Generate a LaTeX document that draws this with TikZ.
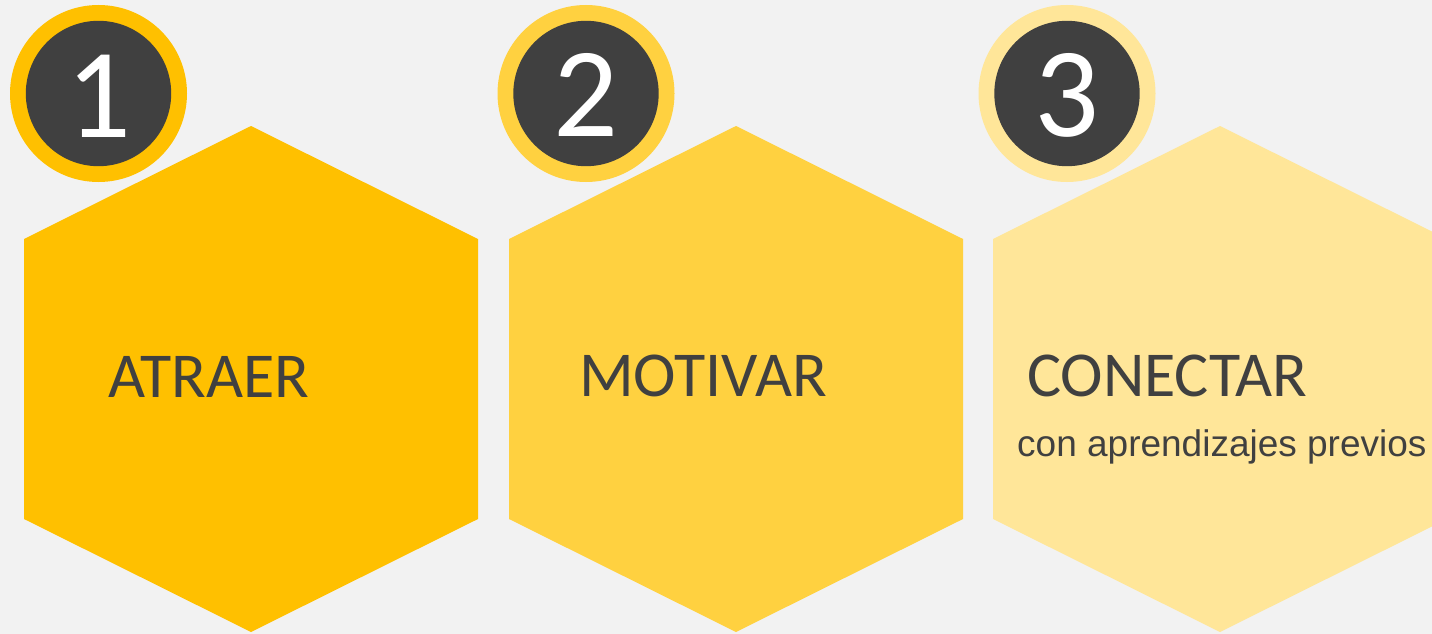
\documentclass[tikz,border=0pt]{standalone}
\usepackage{fontspec}
\setmainfont{Carlito}
\newfontfamily\arialfont{Liberation Sans}
\usepackage{tikz}

\definecolor{bggray}{HTML}{F2F2F2}
\definecolor{goldA}{HTML}{FFC000}
\definecolor{goldB}{HTML}{FFD140}
\definecolor{goldC}{HTML}{FFE699}
\definecolor{darkgray}{HTML}{404040}

\tikzset{
	numring/.style={radius=88.5pt},
	numdisc/.style={fill=darkgray, radius=72.7pt},
	numtext/.style={anchor=base, inner sep=0, text=white, font=\fontsize{128}{128}\selectfont},
	steptext/.style={anchor=base west, inner sep=0, text=darkgray, font=\fontsize{64}{64}\selectfont},
	subtext/.style={anchor=base west, inner sep=0, text=darkgray, font=\arialfont\fontsize{37}{37}\selectfont}
}

\begin{document}
\begin{tikzpicture}[x=1pt, y=-1pt]
		%%%%% START %%%%%
		
		\fill[bggray] (0, 0) rectangle (1432, 634);
		\useasboundingbox (0, 0) rectangle (1432, 634);
		
		\fill[goldA] (251, 126) -- (478, 239) -- (478, 519) -- (251, 632) -- (24, 519) -- (24, 239) -- cycle;
		\fill[goldB] (736, 126) -- (963, 239) -- (963, 519) -- (736, 632) -- (509, 519) -- (509, 239) -- cycle;
		\fill[goldC] (1220, 126) -- (1447, 239) -- (1447, 519) -- (1220, 632) -- (993, 519) -- (993, 239) -- cycle;
		
		\fill[goldA] (98.5, 93.5) circle [numring];
		\fill[numdisc] (98.5, 93.5) circle;
		\node[numtext] (one) at (98.5, 137) {1};
		
		\fill[goldB] (586, 93.5) circle [numring];
		\fill[numdisc] (586, 93.5) circle;
		\node[numtext] (two) at (586, 136) {2};
		
		\fill[goldC] (1067, 93.5) circle [numring];
		\fill[numdisc] (1067, 93.5) circle;
		\node[numtext] (three) at (1067, 136) {3};
		
		\node[steptext] (atraer) at (108, 397) {ATRAER};
		\node[steptext] (motivar) at (579, 396) {MOTIVAR};
		\node[steptext] (conectar) at (1027, 396) {CONECTAR};
		\node[subtext] (previos) at (1017, 456) {con aprendizajes previos};
		
		%%%%% END %%%%%
	\end{tikzpicture}
\end{document}
